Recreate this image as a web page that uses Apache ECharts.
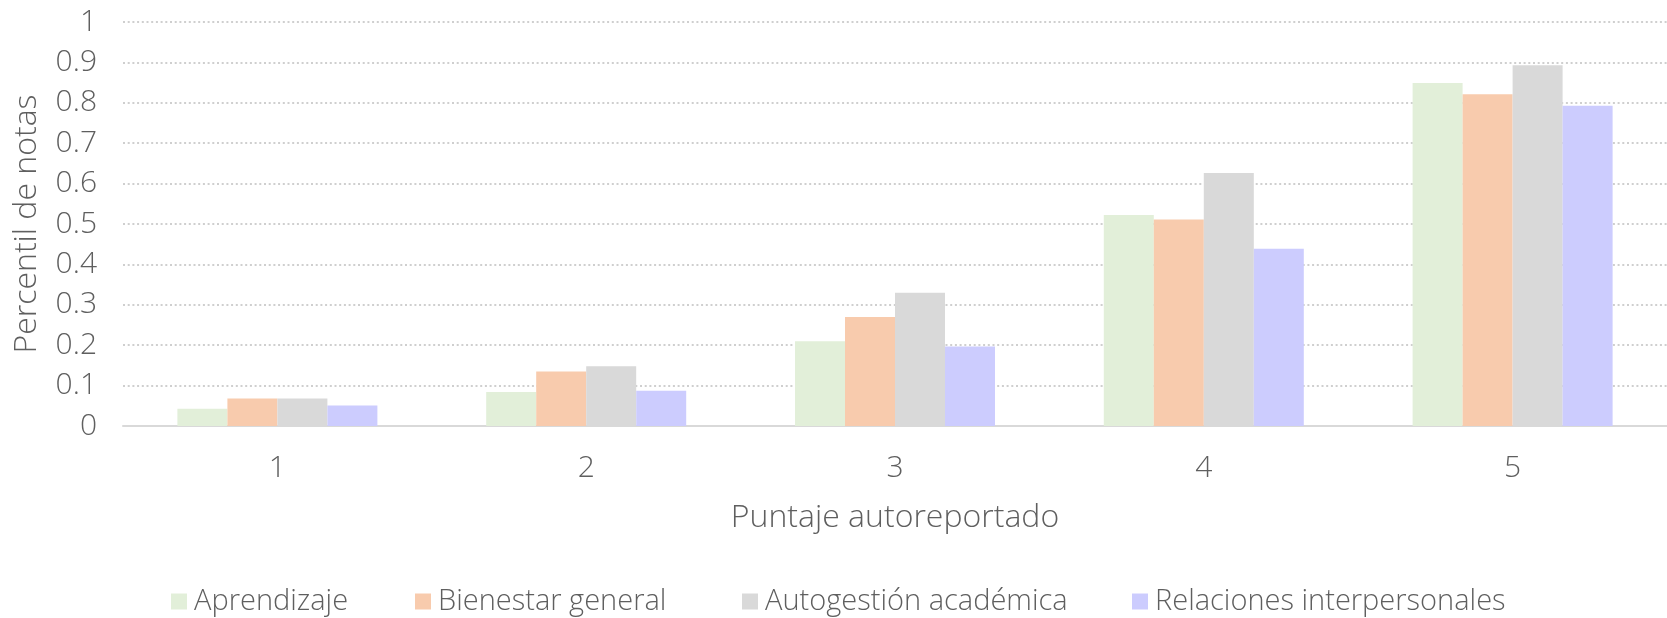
<!DOCTYPE html>
<html>
<head>
<meta charset="utf-8">
<script src="https://cdn.jsdelivr.net/npm/echarts@6/dist/echarts.min.js"></script>
<style>
html,body{margin:0;padding:0;background:#fff;}
#chart{width:1667px;height:618px;}
</style>
</head>
<body>
<div id="chart"></div>
<script>
const categories = ['1', '2', '3', '4', '5'];
const seriesNames = ['Aprendizaje', 'Bienestar general', 'Autogestión académica', 'Relaciones interpersonales'];
const aprendizaje = [0.043, 0.084, 0.21, 0.522, 0.849];
const bienestar = [0.068, 0.135, 0.27, 0.511, 0.821];
const autogestion = [0.068, 0.148, 0.33, 0.626, 0.893];
const relaciones = [0.051, 0.087, 0.197, 0.439, 0.793];
const yTickLabels = ['0', '0.1', '0.2', '0.3', '0.4', '0.5', '0.6', '0.7', '0.8', '0.9', '1'];
const xAxisTitle = 'Puntaje autoreportado';
const yAxisTitle = 'Percentil de notas';

const colors = ['#e2efd9', '#f8cbad', '#d9d9d9', '#ccccfe'];
const textColor = '#5f5f5f';
const fontFamily = '"Open Sans", Roboto, sans-serif';
const legendLefts = [166, 410, 737, 1127];

const seriesData = [aprendizaje, bienestar, autogestion, relaciones];

const chart = echarts.init(document.getElementById('chart'), null, {renderer: 'canvas'});
chart.setOption({
  animation: false,
  backgroundColor: '#ffffff',
  color: colors,
  textStyle: {fontFamily: fontFamily},
  grid: {left: 123, top: 22, width: 1550, height: 404, containLabel: false},
  legend: seriesNames.map(function (name, i) {
    return {
      left: legendLefts[i],
      top: 582,
      itemWidth: 16,
      itemHeight: 16,
      icon: 'rect',
      textStyle: {color: textColor, fontSize: 29, fontFamily: fontFamily, fontWeight: 300, padding: [0, 0, 0, 2]},
      data: [name]
    };
  }),
  xAxis: {
    type: 'category',
    data: categories,
    name: xAxisTitle,
    nameLocation: 'middle',
    nameGap: 76,
    nameTextStyle: {color: textColor, fontSize: 32, fontFamily: fontFamily, fontWeight: 300},
    axisLine: {lineStyle: {color: '#d9d9d9', width: 2}},
    axisTick: {show: false},
    axisLabel: {color: textColor, fontSize: 30, margin: 27, fontFamily: fontFamily, fontWeight: 300}
  },
  yAxis: {
    type: 'value',
    min: 0,
    max: 1,
    interval: 0.1,
    name: yAxisTitle,
    nameLocation: 'middle',
    nameGap: 80,
    nameRotate: 90,
    nameTextStyle: {color: textColor, fontSize: 32, fontFamily: fontFamily, fontWeight: 300},
    axisLine: {show: false},
    axisTick: {show: false},
    axisLabel: {
      color: textColor, fontSize: 30, margin: 26, fontFamily: fontFamily, fontWeight: 300,
      formatter: function (v) { return yTickLabels[Math.round(v * 10)]; }
    },
    splitLine: {lineStyle: {color: '#cfcfcf', width: 2, type: [2, 2.7]}}
  },
  series: seriesNames.map(function (name, i) {
    return {
      name: name,
      type: 'bar',
      data: seriesData[i],
      barWidth: 50,
      barGap: '0%',
      itemStyle: {color: colors[i]}
    };
  })
});
</script>
</body>
</html>
